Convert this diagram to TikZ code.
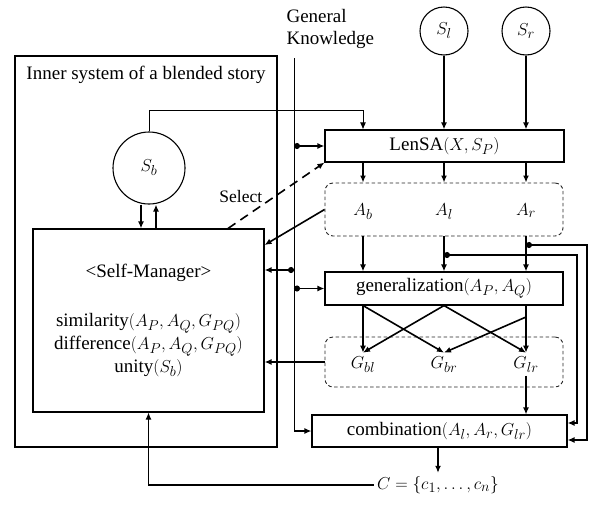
\documentclass[tikz,border=0pt]{standalone}
\usepackage{fontspec}
\setmainfont{Liberation Serif}
\usetikzlibrary{arrows.meta}

\begin{document}
\begin{tikzpicture}[x=1pt,y=-1pt,
	font=\rmfamily\fontsize{19}{23}\selectfont,
	box/.style={draw,line width=1.1pt,inner sep=0pt},
	group/.style={draw=black!85,dash pattern=on 3.5pt off 2.5pt,rounded corners=8pt,line width=0.9pt,inner sep=0pt},
	state/.style={draw,circle,line width=1.1pt,inner sep=0pt},
	arr/.style={line width=1.6pt,-{Latex[length=7pt,width=6pt]}},
	tap/.style={line width=1.6pt,{Circle[length=6pt]}-{Latex[length=7pt,width=6pt]}},
	wire/.style={line width=0.9pt}]
	\useasboundingbox (0,0) rectangle (589,504);

	% blended story and its manager
	\node[box, minimum width=262pt, minimum height=391pt] (inner) at (146,251.5) {};
	\node[anchor=base] (title) at (146,79) {Inner system of a blended story};
	\node[state, minimum size=72pt] (sb) at (149,168) {$S_b$};
	\node[box, minimum width=231pt, minimum height=183pt, align=center] (sm) at (148.5,320.5)
		{\textless Self-Manager\textgreater\\[26pt]
		 similarity$(A_P,A_Q,G_{PQ})$\\
		 difference$(A_P,A_Q,G_{PQ})$\\
		 unity$(S_b)$};

	% pipeline
	\node[align=left, anchor=north west, font=\rmfamily\fontsize{19}{22}\selectfont] (gk) at (283,6) {General\\Knowledge};
	\node[state, minimum size=48pt] (sl) at (444,31) {$S_l$};
	\node[state, minimum size=48pt] (sr) at (526,31) {$S_r$};
	\node[box, minimum width=239pt, minimum height=32pt] (lensa) at (444.5,146) {LenSA$(X,S_P)$};
	\node[group, minimum width=238pt, minimum height=53pt] (abox) at (444,209.5) {};
	\node[anchor=base] (ab) at (363,215) {$A_b$};
	\node[anchor=base] (al) at (444,215) {$A_l$};
	\node[anchor=base] (ar) at (526,215) {$A_r$};
	\node[box, minimum width=238pt, minimum height=33pt] (gen) at (444,288.5) {generalization$(A_P,A_Q)$};
	\node[group, minimum width=238pt, minimum height=50pt] (gbox) at (444,362) {};
	\node[anchor=base] (gbl) at (363,368) {$G_{bl}$};
	\node[anchor=base] (gbr) at (444,368) {$G_{br}$};
	\node[anchor=base] (glr) at (526,368) {$G_{lr}$};
	\node[box, minimum width=255pt, minimum height=32pt] (comb) at (439.5,431) {combination$(A_l,A_r,G_{lr})$};
	\node (cset) at (438,485) {$C=\{c_1,\ldots,c_n\}$};

	\coordinate (gk0) at (294,58);
	\coordinate (bl) at (577,423);
	\coordinate (br) at (587,440);

	% S_b <-> manager
	\draw[arr] ([xshift=-8pt]sb.south) -- ([xshift=-8pt]sb.south |- sm.north);
	\draw[arr] ([xshift=7pt]sb.south |- sm.north) -- ([xshift=7pt]sb.south);
	\draw[wire,-{Latex[length=7pt,width=6pt]}] (sb.north) |- (ab |- 0,110) -- (lensa.north -| ab);
	\draw[arr] (sl) -- (lensa.north -| sl);
	\draw[arr] (sr) -- (lensa.north -| sr);

	% general knowledge
	\draw[wire] (gk0) -- (gk0 |- comb.west);
	\draw[arr] (gk0 |- comb.west) -- (comb.west);
	\draw[tap] (gk0 |- lensa.west) -- (lensa.west);
	\draw[tap] (gk0 |- 0,270) -- (sm.east |- 0,270);
	\draw[tap] (gk0 |- gen.west) -- (gen.west);

	\draw[arr, dash pattern=on 9pt off 6pt] (sm.north -| 228,0) -- node[pos=0.48, left=8pt, font=\rmfamily\fontsize{17.5}{20}\selectfont]{Select} (lensa.south west);
	\draw[arr] (abox.west) -- (sm.east |- 0,245);

	\foreach \n in {ab,al,ar} {
		\draw[arr] (lensa.south -| \n) -- (abox.north -| \n);
		\draw[arr] (abox.south -| \n) -- (gen.north -| \n);
	}
	\draw[tap] (al |- 0,255) -| (bl) -- (comb.east |- bl);
	\draw[tap] (ar |- 0,245) -| (br) -- (comb.east |- br);

	% generalization pairs
	\draw[arr] (gen.south -| gbl) -- (gbl.north);
	\draw[arr] (gen.south -| gbl) -- (gbr.north);
	\draw[arr] (gen.south -| gbr) -- (gbl.north);
	\draw[arr] (gen.south -| gbr) -- (glr.north);
	\draw[arr] (gen.south -| glr) -- (glr.north);
	\draw[arr] (glr |- 0,317) -- (gbr.north);
	\draw[arr] (gbox.west) -- (sm.east |- gbox.west);
	\draw[arr] (glr.south) -- (comb.north -| glr);

	% output back to the manager
	\draw[arr] (comb.south -| cset) -- (cset.north);
	\draw[line width=1.1pt,-{Latex[length=7pt,width=6pt]}] (cset.west) -| (sm.south);
\end{tikzpicture}
\end{document}
